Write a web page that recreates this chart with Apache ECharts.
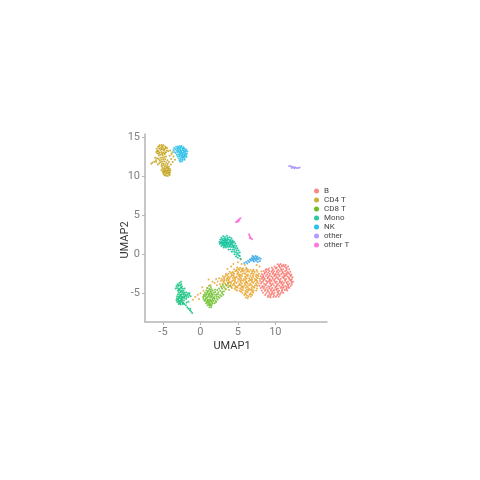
<!DOCTYPE html>
<html lang="en">

<head>
    <meta charset="UTF-8">
    <title>UMAP</title>
    <script src="https://cdn.jsdelivr.net/npm/echarts@6/dist/echarts.min.js"></script>
</head>
<style>
    html,
    body {
        margin: 0;
        background: #fff;
    }

    #main {
        width: 480px;
        height: 480px;
    }
</style>

<body>
    <div id="main"></div>
    <script>
        // values, cell types and their colours
        var categories = ['B', 'CD4 T', 'CD8 T', 'Mono', 'NK', 'other', 'other T'];
        var colors = ['#F8766D', '#C4A21A', '#53B400', '#00C094', '#00B6EB', '#A58AFF', '#FB61D7'];
        var xTicks = [-5, 0, 5, 10];
        var yTicks = [-5, 0, 5, 10, 15];

        var bCells = [
            [10.3, -1.3], [10.7, -1.25], [11.1, -1.35], [11.4, -1.4], [10.5, -1.55], [9.9, -1.6], [10.2, -1.7], [10.9, -1.6], [11.3, -1.65], [11.7, -1.6],
            [8.8, -1.9], [9.15, -1.85], [9.7, -1.95], [10.05, -1.85], [10.4, -2], [10.75, -1.9], [11.05, -1.95], [11.5, -1.9], [11.85, -1.95], [8.45, -2.2],
            [8.8, -2.25], [9.2, -2.15], [9.5, -2.25], [9.85, -2.2], [10.2, -2.3], [10.6, -2.2], [10.95, -2.25], [11.3, -2.2], [11.65, -2.3], [12, -2.25],
            [8.2, -2.55], [8.55, -2.5], [8.9, -2.6], [9.3, -2.5], [9.65, -2.55], [10, -2.5], [10.35, -2.6], [10.8, -2.55], [11.15, -2.5], [11.5, -2.6],
            [11.85, -2.5], [12.15, -2.6], [8.05, -2.85], [8.4, -2.9], [8.75, -2.8], [9.1, -2.9], [9.45, -2.85], [9.85, -2.8], [10.15, -2.9], [10.55, -2.85],
            [10.95, -2.9], [11.3, -2.8], [11.65, -2.9], [12.05, -2.85], [12.3, -2.95], [8.2, -3.15], [8.6, -3.2], [8.95, -3.1], [9.25, -3.2], [9.65, -3.15],
            [10.05, -3.1], [10.4, -3.2], [10.75, -3.15], [11.1, -3.1], [11.45, -3.2], [11.85, -3.15], [12.2, -3.2], [7.95, -3.45], [8.35, -3.5], [8.75, -3.4],
            [9.1, -3.5], [9.5, -3.45], [9.85, -3.4], [10.2, -3.5], [10.6, -3.45], [10.95, -3.5], [11.3, -3.4], [11.7, -3.5], [12.1, -3.45], [12.35, -3.55],
            [8.1, -3.75], [8.5, -3.8], [8.9, -3.7], [9.3, -3.8], [9.65, -3.75], [10.05, -3.7], [10.4, -3.8], [10.8, -3.75], [11.15, -3.7], [11.55, -3.8],
            [11.9, -3.75], [12.2, -3.85], [7.9, -4.05], [8.3, -4.1], [8.7, -4], [9.05, -4.1], [9.45, -4.05], [9.8, -4], [10.2, -4.1], [10.55, -4.05],
            [10.95, -4], [11.3, -4.1], [11.7, -4.05], [12.05, -4.1], [8.05, -4.35], [8.45, -4.4], [8.85, -4.3], [9.2, -4.4], [9.6, -4.35], [10, -4.3],
            [10.35, -4.4], [10.7, -4.35], [11.1, -4.3], [11.5, -4.4], [11.85, -4.35], [8.2, -4.65], [8.6, -4.7], [9, -4.6], [9.4, -4.7], [9.75, -4.65],
            [10.15, -4.6], [10.5, -4.7], [10.9, -4.65], [11.25, -4.6], [11.6, -4.65], [8.35, -4.95], [8.8, -5], [9.15, -4.9], [9.55, -5], [9.9, -4.95],
            [10.3, -4.9], [10.7, -5], [11.05, -4.95], [8.65, -5.25], [9.05, -5.3], [9.45, -5.2], [9.85, -5.3], [10.25, -5.25], [10.6, -5.2], [9, -5.5],
            [9.35, -5.55], [9.75, -5.5], [10.1, -5.45], [8.7, -2.05], [9.4, -3.3], [10.6, -3.6], [11.2, -2.7], [9.9, -4.55], [8.9, -3.55], [11.05, -4.25],
            [10.1, -2.65], [12, -3.3], [8.25, -4.2], [9.55, -1.75], [11.45, -2.45], [9.25, -5.1], [10.45, -5.45], [8.5, -3.05], [11.75, -4.25], [10.85, -1.45],
            // second pass, cells between the first ones
            [10.5, -1.42], [11.15, -1.52], [10.08, -1.78], [10.62, -1.72], [11.5, -1.75], [9.02, -2.02], [9.6, -2.1], [10.25, -2.12], [10.85, -2.08], [11.48, -2.08],
            [8.62, -2.38], [9.05, -2.38], [9.72, -2.4], [10.42, -2.42], [11, -2.38], [11.7, -2.42], [8.38, -2.72], [9.22, -2.72], [9.9, -2.66], [10.58, -2.72],
            [11.48, -2.72], [12.02, -2.7], [8.25, -3], [9.02, -3], [9.62, -2.98], [10.32, -3.02], [11.15, -2.95], [11.82, -3.02], [8.42, -3.32], [9.18, -3.35],
            [9.88, -3.25], [10.6, -3.3], [11.28, -3.28], [12, -3.32], [8.18, -3.6], [9.3, -3.62], [10, -3.58], [10.78, -3.6], [11.5, -3.62], [12.2, -3.65],
            [8.72, -3.88], [9.5, -3.9], [10.25, -3.92], [11, -3.88], [11.72, -3.92], [8.5, -4.22], [9.25, -4.2], [10.05, -4.18], [10.78, -4.2], [11.5, -4.22],
            [8.68, -4.52], [9.42, -4.5], [10.2, -4.48], [10.92, -4.5], [11.45, -4.52], [8.95, -4.8], [9.6, -4.82], [10.35, -4.8], [10.85, -4.82], [9.3, -5.4], [9.72, -5.12], [10.4, -5.08]
        ];

        var cd4Big = [
            [4.9, -1.7], [5.3, -1.75], [5.7, -1.8], [6.1, -1.75], [4.5, -1.95], [4.85, -2], [5.2, -2.05], [5.6, -2], [5.95, -2.05], [6.35, -2],
            [6.7, -2.05], [7.1, -2], [3.9, -2.25], [4.3, -2.3], [4.65, -2.2], [5, -2.3], [5.4, -2.25], [5.75, -2.2], [6.15, -2.3], [6.5, -2.25],
            [6.9, -2.2], [7.25, -2.3], [7.6, -2.25], [3.4, -2.55], [3.75, -2.5], [4.15, -2.6], [4.5, -2.5], [4.9, -2.55], [5.25, -2.6], [5.6, -2.5],
            [6, -2.55], [6.35, -2.6], [6.75, -2.5], [7.1, -2.55], [7.45, -2.6], [7.8, -2.5], [3, -2.85], [3.35, -2.8], [3.7, -2.9], [4.1, -2.85],
            [4.45, -2.8], [4.85, -2.9], [5.2, -2.85], [5.55, -2.8], [5.95, -2.9], [6.3, -2.85], [6.65, -2.8], [7.05, -2.9], [7.4, -2.85], [7.75, -2.8],
            [2.8, -3.15], [3.15, -3.1], [3.55, -3.2], [3.9, -3.15], [4.3, -3.1], [4.65, -3.2], [5.05, -3.15], [5.4, -3.1], [5.8, -3.2], [6.15, -3.15],
            [6.5, -3.1], [6.9, -3.2], [7.25, -3.15], [7.65, -3.1], [7.95, -3.2], [2.75, -3.45], [3.1, -3.5], [3.5, -3.4], [3.85, -3.5], [4.25, -3.45],
            [4.6, -3.4], [5, -3.5], [5.35, -3.45], [5.7, -3.4], [6.1, -3.5], [6.45, -3.45], [6.85, -3.4], [7.2, -3.5], [7.55, -3.45], [2.95, -3.8],
            [3.3, -3.75], [3.7, -3.7], [4.05, -3.8], [4.45, -3.75], [4.8, -3.7], [5.2, -3.8], [5.55, -3.75], [5.9, -3.7], [6.3, -3.8], [6.65, -3.75],
            [7.05, -3.7], [7.4, -3.8], [7.75, -3.75], [3.5, -4.05], [3.9, -4.1], [4.3, -4], [4.65, -4.1], [5.05, -4.05], [5.4, -4], [5.8, -4.1],
            [6.15, -4.05], [6.5, -4], [6.9, -4.1], [7.25, -4.05], [7.6, -4.1], [4.2, -4.35], [4.55, -4.4], [4.95, -4.3], [5.3, -4.4], [5.7, -4.35],
            [6.05, -4.3], [6.45, -4.4], [6.8, -4.35], [7.2, -4.3], [7.55, -4.4], [4.9, -4.65], [5.25, -4.7], [5.65, -4.6], [6, -4.7], [6.4, -4.65],
            [6.75, -4.6], [7.1, -4.7], [7.45, -4.65], [5.6, -4.95], [5.95, -5], [6.3, -4.9], [6.7, -5], [7.05, -4.95], [5.85, -5.25], [6.2, -5.3],
            [6.55, -5.2], [6.9, -5.25], [6.05, -5.55], [6.3, -5.65], [4.7, -3.0], [5.85, -2.45], [6.6, -3.3], [3.25, -3.3], [4.1, -3.6], [5.5, -4.2],
            [7, -2.75], [5.1, -2.7], [6.2, -3.6], [4.4, -2.45], [3.6, -3.05], [7.35, -3.3], [5.5, -3.3], [6.55, -4.55], [4.85, -4.2], [7.5, -2.05],
            // second pass, cells between the first ones
            [5.1, -1.88], [5.5, -1.9], [6.2, -1.92], [4.1, -2.42], [4.82, -2.12], [5.58, -2.12], [6.3, -2.15], [7.05, -2.15], [3.58, -2.68], [4.3, -2.72],
            [5.05, -2.42], [5.42, -2.72], [6.18, -2.72], [6.92, -2.42], [7.62, -2.68], [3.2, -2.98], [3.88, -3], [4.5, -2.98], [5.3, -3], [6.08, -3.02],
            [6.82, -3.02], [7.55, -2.98], [2.98, -3.3], [3.72, -3.32], [4.45, -3.3], [5.2, -3.28], [5.95, -3.32], [6.72, -3.28], [7.45, -3.3], [3.12, -3.62],
            [3.9, -3.62], [4.62, -3.58], [5.38, -3.62], [6.1, -3.65], [6.88, -3.58], [7.6, -3.62], [3.7, -3.92], [4.5, -3.9], [5.22, -3.95], [5.98, -3.9],
            [6.72, -3.92], [7.45, -3.95], [4.1, -4.2], [4.75, -4.22], [5.6, -4.18], [6.32, -4.2], [7.08, -4.2], [4.72, -4.52], [5.48, -4.52], [6.22, -4.52],
            [6.95, -4.52], [5.42, -4.82], [6.15, -4.82], [6.9, -4.8], [6.05, -5.12], [6.72, -5.1], [6.4, -5.42], [6.72, -5.42],
            // loose cells running down to the CD8 T group
            [2.5, -3.1], [2.3, -3.5], [2.1, -3.2], [2.6, -3.85], [1.9, -3.7], [1.6, -3.55], [2.2, -4], [1.35, -3.95], [2.85, -4.2], [0.9, -4.35],
            [0.4, -4.7], [0, -5], [-0.35, -5.2], [-0.7, -5.5], [-0.2, -5.75], [-1, -5.85], [0.25, -4.25], [3.3, -4.4], [3.8, -4.6], [1.1, -3.25],
            // CD4 T cells scattered around the NK arc and teal tail
            [4.4, -1.25], [5, -1.05], [5.5, -1.25], [5.9, -1.4], [4.1, -1.6], [3.6, -1.9], [8.15, -2.2], [7.9, -1.6], [7.5, -1.4], [5.4, -0.7]
        ];

        var cd4Top = [
            [-5.85, 13.5], [-5.65, 13.75], [-5.45, 13.95], [-5.2, 14], [-4.95, 13.95], [-4.7, 13.8], [-4.45, 13.6], [-5.7, 13.3], [-5.5, 13.55], [-5.25, 13.7],
            [-5, 13.65], [-4.75, 13.5], [-4.5, 13.3], [-5.9, 13.1], [-5.6, 13.15], [-5.35, 13.35], [-5.1, 13.4], [-4.85, 13.25], [-4.6, 13.05], [-5.75, 12.9],
            [-5.45, 13], [-5.2, 13.1], [-4.95, 13], [-4.3, 13.2], [-5.3, 12.75], [-5.05, 12.7], [-4.8, 12.8], [-5.55, 12.65], [-5.1, 12.4], [-4.85, 12.45],
            [-5.35, 12.35], [-4.6, 12.5], [-5.2, 12.1], [-4.95, 12.15], [-4.7, 12.2], [-5.45, 12], [-5.6, 12.2], [-4.4, 12.05], [-5.3, 11.8], [-5.05, 11.85],
            [-4.8, 11.9], [-4.55, 11.75], [-5.5, 11.65], [-5.15, 11.55], [-4.9, 11.6], [-4.65, 11.5], [-4.35, 11.55], [-5.2, 11.3], [-5, 11.35], [-4.75, 11.25],
            [-4.45, 11.3], [-4.2, 11.2], [-5.1, 11.05], [-4.85, 11.05], [-4.6, 11], [-4.35, 11.05], [-4.1, 10.95], [-5.2, 10.8], [-4.95, 10.8], [-4.7, 10.75],
            [-4.45, 10.8], [-4.2, 10.7], [-4, 10.75], [-5.05, 10.55], [-4.8, 10.5], [-4.55, 10.55], [-4.3, 10.45], [-4.05, 10.5], [-4.95, 10.3], [-4.7, 10.25],
            [-4.45, 10.3], [-4.2, 10.25], [-4.6, 10.05], [-4.35, 10], [-4.8, 10.1], [-4.1, 10.15],
            [-5.55, 13.8], [-5.1, 13.82], [-4.62, 13.65], [-5.78, 13.2], [-5.22, 13.52], [-4.88, 13.42], [-5.55, 12.88], [-5.12, 12.9], [-4.72, 12.95], [-4.6, 10.65],
            [-4.85, 10.65], [-4.35, 10.65], [-4.55, 10.4], [-4.25, 10.9], [-4.8, 10.9], [-4.5, 11.15], [-4.9, 10.45], [-4.15, 10.4],
            [-6.4, 11.75], [-6.15, 11.85], [-5.9, 11.8], [-6.55, 11.6], [-5.8, 12.3], [-5.95, 12.05], [-6.05, 12.35], [-5.7, 11.5],
            [-4.1, 12.6], [-3.9, 12.2], [-4.2, 11.8], [-3.85, 12.85], [-3.6, 12.5], [-3.7, 11.8], [-3.4, 12.1], [-4.05, 13.3], [-3.75, 13.05], [-3.95, 11.5]
        ];

        var cd8 = [
            [1.15, -4.05], [1.4, -4.2], [0.95, -4.35], [1.2, -4.45], [1.5, -4.5], [0.8, -4.65], [1.05, -4.7], [1.35, -4.75], [1.65, -4.7], [0.6, -4.95],
            [0.9, -4.95], [1.2, -5], [1.5, -5.05], [1.8, -4.95], [0.45, -5.2], [0.75, -5.25], [1.05, -5.2], [1.35, -5.3], [1.65, -5.25], [1.95, -5.2],
            [0.35, -5.5], [0.65, -5.45], [0.95, -5.5], [1.25, -5.55], [1.55, -5.5], [1.85, -5.5], [2.15, -5.4], [0.4, -5.75], [0.7, -5.75], [1, -5.8],
            [1.3, -5.8], [1.6, -5.75], [1.9, -5.75], [0.55, -6], [0.85, -6.05], [1.15, -6.05], [1.45, -6.05], [1.75, -6], [0.75, -6.3], [1.05, -6.3],
            [1.35, -6.35], [1.65, -6.3], [0.95, -6.55], [1.25, -6.6], [1.5, -6.55], [1.2, -6.8], [1.45, -6.8],
            [2.2, -5.15], [2.4, -4.9], [2.65, -4.7], [2.9, -4.45], [3.15, -4.2], [3.4, -3.95], [3.65, -3.7], [2, -4.85], [2.25, -4.6], [2.5, -4.4],
            [2.75, -4.15], [3, -3.95], [2.15, -5.65], [2.4, -5.45], [2.65, -5.25], [2.9, -5], [3.15, -4.75], [3.4, -4.5], [3.7, -4.25], [4, -4.05],
            [2.05, -6], [2.3, -5.8], [2.55, -5.6], [2.8, -5.4], [3.05, -5.2], [1.9, -6.3], [2.1, -6.15], [2.9, -4.85], [2.35, -5.15], [1.95, -4.55],
            [1.28, -4.58], [0.98, -4.82], [1.42, -4.9], [0.78, -5.1], [1.2, -5.12], [1.55, -5.15], [0.52, -5.35], [0.82, -5.62], [1.1, -5.38], [1.42, -5.42],
            [1.75, -5.62], [0.62, -5.88], [1, -5.92], [1.3, -5.95], [1.6, -5.9], [0.9, -6.18], [1.2, -6.2], [1.5, -6.18], [1.1, -6.45], [1.38, -6.48]
        ];

        var monoLower = [
            [-3.05, -3.85], [-2.8, -3.7], [-2.55, -3.85], [-3.2, -4.1], [-2.95, -4.1], [-2.7, -4], [-2.45, -4.15], [-3.1, -4.35], [-2.85, -4.4], [-2.6, -4.35],
            [-2.35, -4.45], [-3, -4.65], [-2.75, -4.6], [-2.5, -4.65], [-2.25, -4.7], [-2.9, -4.9], [-2.65, -4.9], [-2.4, -4.85], [-2.15, -4.95], [-1.9, -4.9],
            [-1.65, -5], [-1.45, -5], [-3, -5.15], [-2.75, -5.15], [-2.5, -5.15], [-2.25, -5.2], [-2, -5.15], [-1.75, -5.25], [-1.5, -5.25], [-3.1, -5.4],
            [-2.85, -5.4], [-2.6, -5.4], [-2.35, -5.45], [-2.1, -5.4], [-1.85, -5.5], [-1.6, -5.5], [-3.15, -5.65], [-2.9, -5.65], [-2.65, -5.65], [-2.4, -5.7],
            [-2.15, -5.65], [-1.9, -5.75], [-3.2, -5.9], [-2.95, -5.9], [-2.7, -5.95], [-2.45, -5.9], [-2.2, -5.95], [-3.1, -6.15], [-2.85, -6.2], [-2.6, -6.15],
            [-2.35, -6.2], [-2.9, -6.4], [-2.65, -6.45], [-2.4, -6.4], [-2.15, -6.4], [-1.95, -6.55], [-1.75, -6.8], [-1.6, -7], [-1.4, -7.2], [-1.25, -7.35],
            [-1.1, -7.55], [-1.35, -7], [-1.85, -6.2], [-1.6, -6.1], [-2.6, -3.55], [-3.3, -4.4], [-2.1, -4.4], [-1.3, -5.4],
            [-2.9, -3.98], [-2.58, -4.25], [-2.88, -4.55], [-2.62, -4.78], [-2.28, -5.05], [-2.62, -5.28], [-2.85, -5.52], [-2.48, -5.55], [-2.18, -5.52], [-3.02, -5.78],
            [-2.55, -5.78], [-2.85, -6.05], [-2.5, -6.05], [-2.72, -6.32], [-2.28, -6.3], [-1.95, -5.3]
        ];

        var monoUpper = [
            [2.8, 2.1], [3.05, 2.3], [3.3, 2.2], [3.55, 2.35], [2.65, 1.85], [2.9, 1.9], [3.15, 2], [3.4, 1.95], [3.65, 2.1], [3.9, 2.15],
            [4.15, 2.05], [2.55, 1.55], [2.8, 1.6], [3.05, 1.7], [3.3, 1.7], [3.55, 1.75], [3.8, 1.85], [4.05, 1.8], [4.3, 1.75], [4.5, 1.6],
            [2.6, 1.3], [2.85, 1.35], [3.1, 1.4], [3.35, 1.45], [3.6, 1.5], [3.85, 1.55], [4.1, 1.5], [4.35, 1.45], [4.65, 1.35], [2.8, 1.05],
            [3.05, 1.1], [3.3, 1.15], [3.55, 1.2], [3.8, 1.25], [4.05, 1.2], [4.3, 1.15], [4.55, 1.1], [4.8, 1.05], [3.1, 0.85], [3.4, 0.85],
            [3.7, 0.9], [3.95, 0.95], [4.2, 0.9], [4.45, 0.85], [4.7, 0.8], [4.95, 0.75], [3.75, 0.6], [4, 0.6], [4.3, 0.6], [4.55, 0.55],
            [4.85, 0.5], [5.1, 0.45], [4.2, 0.3], [4.5, 0.3], [4.75, 0.25], [5, 0.15], [5.25, 0.2], [4.55, 0], [4.85, -0.05], [5.1, -0.15],
            [4.75, -0.3], [5, -0.45], [5.25, -0.25], [5.35, -0.6],
            [2.95, 1.78], [3.25, 1.85], [3.6, 1.95], [2.7, 1.45], [3, 1.5], [3.22, 1.55], [3.48, 1.6], [3.95, 1.68], [4.22, 1.6], [2.95, 1.22],
            [3.22, 1.28], [3.48, 1.32], [3.72, 1.38], [4, 1.35], [4.22, 1.3], [3.25, 1], [3.55, 1.05], [3.9, 1.08], [4.42, 1]
        ];

        var nkTop = [
            [-3.5, 13.6], [-3.25, 13.75], [-3, 13.8], [-2.75, 13.85], [-2.5, 13.85], [-2.25, 13.7], [-3.6, 13.35], [-3.35, 13.45], [-3.1, 13.55], [-2.85, 13.6],
            [-2.6, 13.6], [-2.35, 13.5], [-2.1, 13.5], [-1.9, 13.4], [-3.5, 13.1], [-3.2, 13.25], [-2.95, 13.3], [-2.7, 13.35], [-2.45, 13.3], [-2.2, 13.25],
            [-1.95, 13.15], [-1.75, 13.2], [-3.3, 12.95], [-3.05, 13.05], [-2.8, 13.1], [-2.55, 13.05], [-2.3, 13], [-2.05, 12.95], [-1.8, 12.9], [-3.15, 12.75],
            [-2.9, 12.8], [-2.65, 12.85], [-2.4, 12.8], [-2.15, 12.75], [-1.9, 12.7], [-3.05, 12.5], [-2.8, 12.55], [-2.55, 12.6], [-2.3, 12.55], [-2.05, 12.5],
            [-1.85, 12.45], [-2.9, 12.3], [-2.65, 12.3], [-2.4, 12.35], [-2.15, 12.3], [-2.6, 12.1], [-2.35, 12.1], [-2.8, 12.05], [-2.1, 12.1], [-2.7, 11.85], [-2.45, 11.9],
            [-2.95, 13.65], [-2.6, 13.72], [-2.28, 13.58], [-3.05, 13.4], [-2.72, 13.48], [-2.35, 13.38], [-2, 13.3], [-2.92, 13.18], [-2.6, 13.2], [-2.18, 13.12],
            [-2.72, 12.95], [-2.42, 12.92], [-2, 12.82], [-2.78, 12.68], [-2.42, 12.68], [-2.1, 12.62], [-2.52, 12.45], [-2.25, 12.42]
        ];

        var nkSmall = [
            [6.1, -1], [6.35, -0.85], [6.6, -0.7], [6.85, -0.5], [7.1, -0.35], [7.35, -0.25], [7.6, -0.3], [7.85, -0.45], [8.05, -0.6], [6.5, -1],
            [6.75, -0.85], [7, -0.7], [7.25, -0.6], [7.5, -0.55], [7.75, -0.7], [5.85, -1.15], [6.25, -1.2], [7.15, -0.95], [7.45, -0.85], [7.95, -0.9], [6.95, -0.25], [7.65, -1],
            [7.2, -0.48], [7.48, -0.4], [7, -0.55], [6.72, -0.68], [7.35, -0.72], [7.62, -0.62], [7.05, -0.85]
        ];

        var otherCells = [[11.85, 11.3], [12.05, 11.25], [12.25, 11.2], [12.45, 11.15], [12.65, 11.1], [12.85, 11.05], [13.05, 11.05], [13.25, 11.1], [12.2, 11.05], [12.55, 11]];

        var otherT = [
            [4.75, 4.1], [4.9, 4.25], [5.05, 4.35], [5.2, 4.5], [5.35, 4.6], [5.0, 4.15], [5.15, 4.3],
            [6.5, 2.55], [6.55, 2.35], [6.65, 2.2], [6.75, 2.05], [6.9, 1.9], [6.6, 2.05]
        ];

        // the two large groups of CD4 T and Mono are drawn in slightly different tones in the reference
        var groups = [
            { name: 'B', color: colors[0], cells: bCells },
            { name: 'CD4 T', color: colors[1], cells: cd4Top },
            { name: 'CD4 T', color: '#E8A42C', cells: cd4Big },
            { name: 'CD8 T', color: '#6CBE2A', cells: cd8 },
            { name: 'Mono', color: colors[3], cells: monoUpper },
            { name: 'Mono', color: '#10C27C', cells: monoLower },
            { name: 'NK', color: '#25C0E8', cells: nkTop },
            { name: 'NK', color: '#35A8E6', cells: nkSmall },
            { name: 'other', color: colors[5], cells: otherCells },
            { name: 'other T', color: colors[6], cells: otherT }
        ];

        var myChart = echarts.init(document.getElementById('main'));

        var axisText = { color: '#808080', fontSize: 11, fontFamily: 'Roboto' };
        var axisName = { color: '#333', fontSize: 11, fontFamily: 'Roboto' };
        var axisLine = { onZero: false, lineStyle: { color: '#b5b5b5', width: 1.5 } };

        var option = {
            backgroundColor: '#fff',
            animation: false,
            grid: { left: 145, right: 153, top: 134, bottom: 158 },
            legend: {
                // one entry per cell type, the colours come from the first series of that name
                data: categories.map(function (name, i) {
                    return { name: name, itemStyle: { color: colors[i] } };
                }),
                orient: 'vertical',
                left: 309,
                top: 182,
                icon: 'circle',
                itemWidth: 5,
                itemHeight: 5,
                itemGap: 1,
                textStyle: { fontSize: 8, color: '#444', fontFamily: 'Roboto' }
            },
            xAxis: {
                type: 'value',
                min: -7.4,
                max: 16.9,
                splitLine: { show: false },
                axisLine: axisLine,
                axisTick: { customValues: xTicks, length: 3, lineStyle: { color: '#b5b5b5' } },
                axisLabel: Object.assign({ customValues: xTicks, margin: 5 }, axisText),
                name: 'UMAP1',
                nameLocation: 'middle',
                nameGap: 19,
                nameMoveOverlap: false,
                nameTextStyle: Object.assign({ padding: [0, 8, 0, 0] }, axisName)
            },
            yAxis: {
                type: 'value',
                min: -8.7,
                max: 15.4,
                splitLine: { show: false },
                axisLine: axisLine,
                axisTick: { customValues: yTicks, length: 3, lineStyle: { color: '#b5b5b5' } },
                axisLabel: Object.assign({ customValues: yTicks, margin: 5 }, axisText),
                name: 'UMAP2',
                nameLocation: 'middle',
                nameGap: 14,
                nameMoveOverlap: false,
                nameTextStyle: Object.assign({ padding: [0, 24, 0, 0] }, axisName)
            },
            series: groups.map(function (g) {
                return {
                    name: g.name,
                    type: 'scatter',
                    symbolSize: 2,
                    itemStyle: { color: g.color, opacity: 0.85 },
                    data: g.cells
                };
            })
        };
        myChart.setOption(option);
    </script>
</body>

</html>
